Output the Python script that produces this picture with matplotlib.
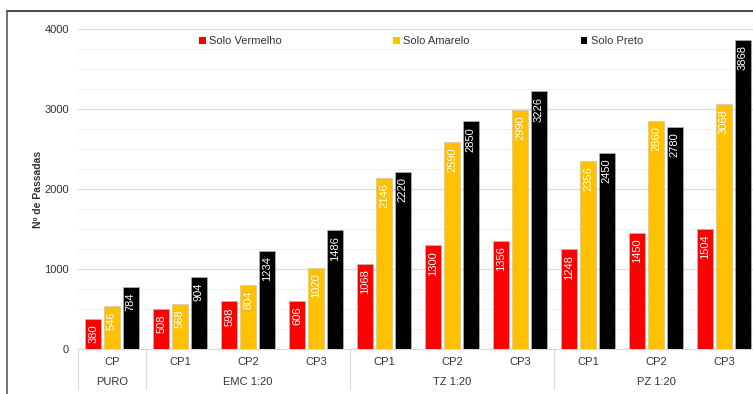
import numpy as np
import matplotlib.pyplot as plt
from matplotlib.lines import Line2D
from matplotlib.patches import Patch

plt.rcParams['font.family'] = ['Liberation Sans', 'DejaVu Sans']

# Number of passes per mixture, for each soil
categories = ['CP', 'CP1', 'CP2', 'CP3', 'CP1', 'CP2', 'CP3', 'CP1', 'CP2', 'CP3']
groups = ['PURO', 'EMC 1:20', 'TZ 1:20', 'PZ 1:20']
group_sizes = [1, 3, 3, 3]

solo_vermelho = [380, 508, 598, 606, 1068, 1300, 1356, 1248, 1450, 1504]
solo_amarelo = [546, 568, 804, 1020, 2146, 2590, 2990, 2356, 2860, 3068]
solo_preto = [784, 904, 1234, 1486, 2220, 2850, 3226, 2450, 2780, 3868]

series = [('Solo Vermelho', solo_vermelho, '#ff0000'),
          ('Solo Amarelo', solo_amarelo, '#ffc000'),
          ('Solo Preto', solo_preto, '#000000')]

fig = plt.figure(figsize=(7.53, 3.94), dpi=100)
ax = fig.add_axes([78 / 753, (394 - 349.3) / 394, 680 / 753, 320 / 394])

x = np.arange(len(categories))
width = 0.235
step = 0.275

handles = []
for i, (name, vals, color) in enumerate(series):
    pos = x + (i - 1) * step
    bars = ax.bar(pos, vals, width, color=color, edgecolor='#bfbfbf',
                  linewidth=0.4, zorder=3)
    for b, v in zip(bars, vals):
        ax.annotate(str(v), (b.get_x() + b.get_width() / 2, v),
                    xytext=(0, -4), textcoords='offset points',
                    rotation=90, ha='center', va='top', color='white',
                    fontsize=8, zorder=4)
    handles.append(Patch(facecolor=color, label=name))

ax.set_xlim(-0.5, len(categories) - 0.5)
ax.set_ylim(0, 4000)
ax.set_yticks([0, 1000, 2000, 3000, 4000])
ax.set_yticks(np.arange(0, 4001, 250), minor=True)
ax.tick_params(axis='y', which='both', length=0, labelsize=8,
               labelcolor='#333333', pad=6.5)
ax.set_xticks([])
ax.grid(axis='y', which='major', color='#d9d9d9', linewidth=0.8, zorder=0)
ax.grid(axis='y', which='minor', color='#f2f2f2', linewidth=0.8, zorder=0)

for side in ['top', 'right', 'left']:
    ax.spines[side].set_visible(False)
ax.spines['bottom'].set_color('#d9d9d9')

ax.set_ylabel('Nº de Passadas', fontsize=7.5, fontweight='bold',
              color='#333333', labelpad=1)

# two-level category axis
trans = ax.get_xaxis_transform()
for xi, lab in zip(x, categories):
    ax.text(xi, -0.04, lab, transform=trans, ha='center', va='center',
            fontsize=8, color='#333333')

start = -0.5
ax.plot([start, start], [0, -0.125], transform=trans, color='#d9d9d9',
        linewidth=0.8, clip_on=False)
for g, n in zip(groups, group_sizes):
    end = start + n
    ax.text((start + end) / 2, -0.103, g, transform=trans, ha='center',
            va='center', fontsize=8, color='#333333')
    ax.plot([end, end], [0, -0.125], transform=trans, color='#d9d9d9',
            linewidth=0.8, clip_on=False)
    start = end

ax.legend(handles=handles, loc='center', bbox_to_anchor=(0.5045, 0.963),
          ncol=3, frameon=False, fontsize=8, handlelength=0.6,
          handleheight=0.6, handletextpad=0.3, columnspacing=10.0,
          labelcolor='#333333')

# outer frame
fig.add_artist(Line2D([7 / 753, 1], [1 - 11 / 394, 1 - 11 / 394],
                      transform=fig.transFigure, color='#262626', linewidth=1.2))
fig.add_artist(Line2D([7 / 753, 7 / 753], [0, 1 - 11 / 394],
                      transform=fig.transFigure, color='#595959', linewidth=1.2))

fig.savefig('out.png', dpi=100)
